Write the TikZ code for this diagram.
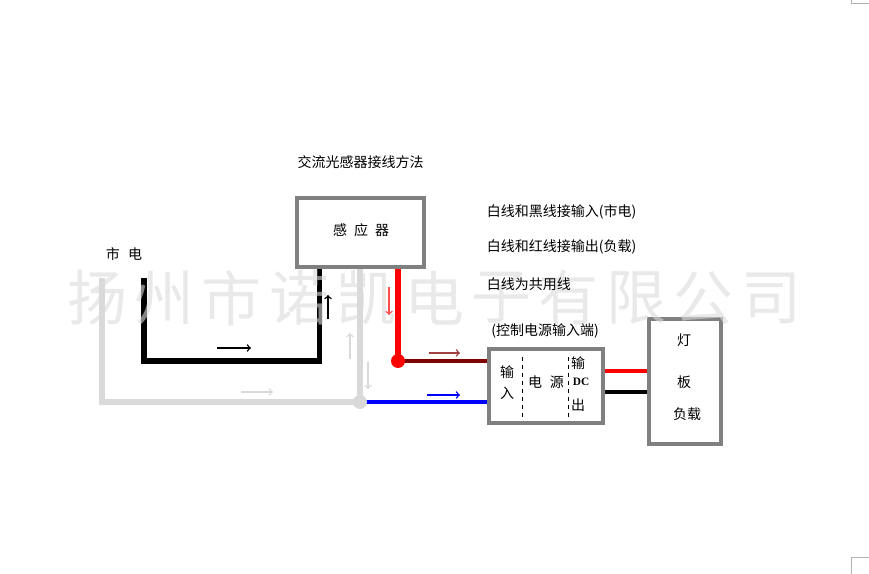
\documentclass[tikz,border=0pt]{standalone}
\usepackage{fontspec}
\setmainfont{Noto Sans CJK SC}
\newfontfamily\dcfont{Liberation Serif}
\definecolor{boxgray}{RGB}{128,128,128}
\definecolor{neutral}{RGB}{217,217,217}
\definecolor{darkred}{RGB}{128,0,0}
\begin{document}
\begin{tikzpicture}[x=0.75pt,y=0.75pt,font=\fontsize{10.5}{12}\selectfont]
\tikzstyle{every node}+=[inner sep=0pt]
\tikzstyle{unit}=[draw=boxgray,line width=3pt,fill=white]
\tikzstyle{thin wire}=[line width=2.3pt]
\tikzstyle{thick wire}=[line width=4.2pt]
\tikzstyle{flow}=[->,line width=1.1pt]
\useasboundingbox (0,0) rectangle (869,-574);
\draw [black!30,line width=0.7pt] (851,0) -- (851,-3) -- (869,-3);
\draw [black!30,line width=0.7pt] (851,-574) -- (851,-557) -- (869,-557);
\draw (360.5,-232.5) node [unit,minimum width=95.25pt,minimum height=51.75pt] (sensor) {};
\draw (546,-386) node [unit,minimum width=85.5pt,minimum height=55.5pt] (psu) {};
\draw (685,-381.5) node [unit,minimum width=54pt,minimum height=93.75pt] (lamp) {};
\coordinate (blacktop) at (144,-278);
\coordinate (blackleft) at (144,-361);
\coordinate (blackright) at (319.5,-361);
\coordinate (greytop) at (102,-278);
\coordinate (greyleft) at (102,-402);
\coordinate (junctiongrey) at (360,-402);
\coordinate (junctionred) at (398,-361);
\draw [black,thick wire] (blacktop) -- (blackleft) -- (blackright) -- (blackright |- sensor.south);
\draw [neutral,thick wire] (greytop) -- (greyleft) -- (junctiongrey) -- (junctiongrey |- sensor.south);
\draw [red,thick wire] (junctionred |- sensor.south) -- (junctionred);
\draw [darkred,thin wire] (junctionred) -- (junctionred -| psu.west);
\draw [blue,thin wire] (junctiongrey) -- (junctiongrey -| psu.west);
\fill [red] (junctionred) circle (7);
\fill [neutral] (junctiongrey) circle (7);
\coordinate (outred) at (603,-371);
\coordinate (outblack) at (603,-392);
\draw [red,thin wire] (outred -| psu.east) -- (outred -| lamp.west);
\draw [black,thin wire] (outblack -| psu.east) -- (outblack -| lamp.west);
\draw [black,dashed,line width=0.7pt] (522,-357) -- (522,-417);
\draw [black,dashed,line width=0.7pt] (568,-357) -- (568,-417);
\draw [flow,black] (217,-348) -- (251,-348);
\draw [flow,black] (328,-319) -- (328,-295);
\draw [flow,neutral] (241,-392) -- (273,-392);
\draw [flow,neutral] (350,-359) -- (350,-333);
\draw [flow,neutral] (368,-362) -- (368,-389);
\draw [flow,red!70] (389,-287) -- (389,-315);
\draw [flow,darkred!75] (429,-353) -- (460,-353);
\draw [flow,blue] (427,-395) -- (460,-395);
\foreach \ch [count=\i from 0] in {扬,州,市,诺,凯,电,子,有,限,公,司}
  \draw (97+67.4*\i,-298) node [text=black!14,opacity=0.6,font=\fontsize{45}{50}\selectfont] (mark\i) {\ch};
\draw (360.5,-162.5) node (title) {交流光感器接线方法};
\draw (124,-254) node (mains) {市\hspace{0.6em}电};
\draw (361,-230.5) node (sensorlabel) {感\hspace{0.5em}应\hspace{0.5em}器};
\draw (486.5,-212) node [anchor=west] (noteone) {白线和黑线接输入(市电)};
\draw (486.5,-247) node [anchor=west] (notetwo) {白线和红线接输出(负载)};
\draw (486.5,-284) node [anchor=west] (notethree) {白线为共用线};
\draw (545,-331) node (psutitle) {(控制电源输入端)};
\draw (507,-372) node (inone) {输};
\draw (507,-393) node (intwo) {入};
\draw (546,-382) node (psulabel) {电\hspace{0.55em}源};
\draw (578,-363) node (outone) {输};
\draw (581,-382) node (outdc) {\dcfont\bfseries\fontsize{8.5}{10}\selectfont DC};
\draw (578,-405) node (outtwo) {出};
\draw (684,-340) node (lampone) {灯};
\draw (684,-382) node (lamptwo) {板};
\draw (687,-414) node (lampthree) {负载};
\end{tikzpicture}
\end{document}
